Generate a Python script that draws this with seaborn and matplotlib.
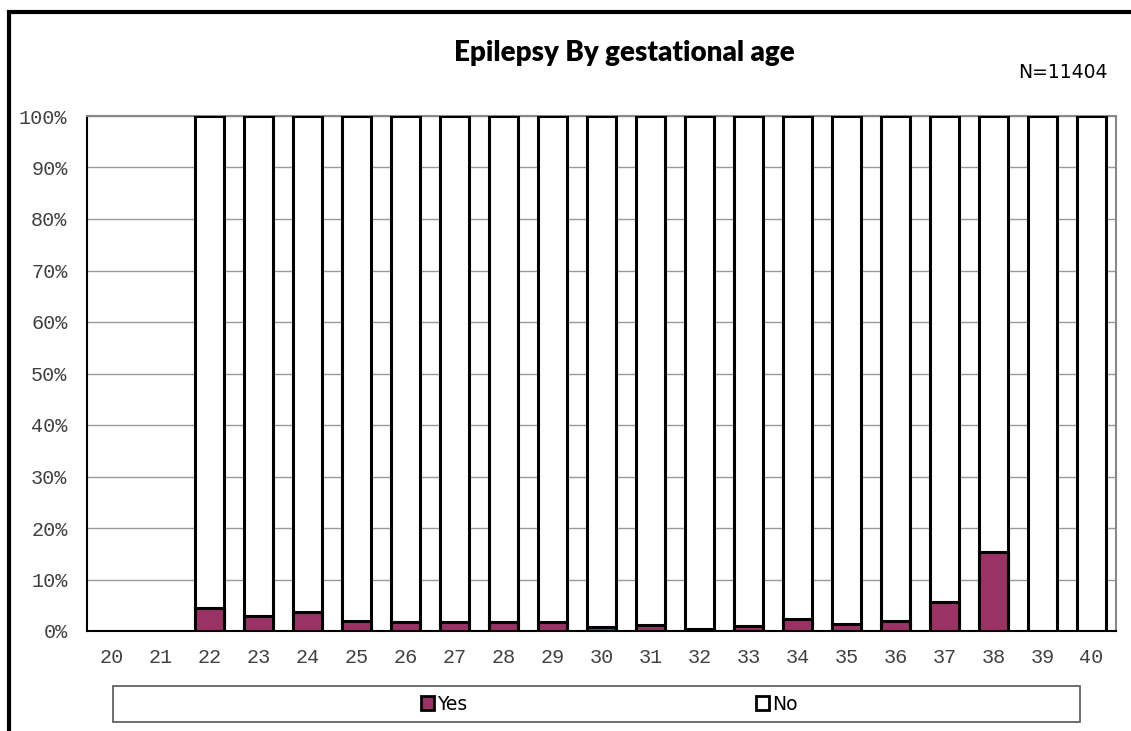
import numpy as np
import pandas as pd
import matplotlib
matplotlib.use('Agg')
import matplotlib.pyplot as plt
import seaborn as sns
from matplotlib.patches import Rectangle, Patch
from matplotlib.ticker import FuncFormatter

# Values (percent of each gestational age)
ages = [str(a) for a in range(20, 41)]
yes_pct = [np.nan, np.nan, 4.4, 2.9, 3.7, 2.0, 1.7, 1.7, 1.7, 1.7, 0.8,
           1.1, 0.4, 1.0, 2.4, 1.3, 1.9, 5.6, 15.3, 0.0, 0.0]
total_pct = [np.nan, np.nan] + [100.0] * 19

df = pd.DataFrame({'age': ages, 'Yes': yes_pct, 'Total': total_pct})

sns.set_style('white')
plt.rcParams['font.family'] = ['DejaVu Sans']
plt.rcParams['text.color'] = 'black'

fig = plt.figure(figsize=(11.31, 7.31), dpi=100)
ax = fig.add_axes([87 / 1131, 1 - 631 / 731, (1116 - 87) / 1131, (631 - 116) / 731])

# whole bar (No) drawn first, Yes part on top of it
sns.barplot(data=df, x='age', y='Total', order=ages, color='white', edgecolor='black',
            linewidth=2.2, width=0.6, errorbar=None, ax=ax, zorder=3)
sns.barplot(data=df, x='age', y='Yes', order=ages, color='#993366', saturation=1,
            edgecolor='black', linewidth=2.2, width=0.6, errorbar=None, ax=ax, zorder=4)

ax.set_ylim(0, 100)
ax.set_xlim(-0.5, len(ages) - 0.5)
ax.set_yticks(np.arange(0, 101, 10))
ax.yaxis.set_major_formatter(FuncFormatter(lambda v, p: f'{int(v)}%'))
ax.yaxis.grid(True, color='#999999', linewidth=1)
ax.set_axisbelow(True)
ax.set_xlabel('')
ax.set_ylabel('')

# ticks between categories on x
ax.set_xticks(np.arange(len(ages)))
ax.set_xticks(np.arange(-0.5, len(ages), 1), minor=True)
ax.tick_params(axis='x', which='major', length=0, pad=12)
ax.tick_params(axis='x', which='minor', direction='in', length=6, width=1, color='black')
ax.tick_params(axis='y', direction='in', length=6, width=1, color='black', pad=14)
for lab in ax.get_xticklabels() + ax.get_yticklabels():
    lab.set_fontfamily('Liberation Mono')
    lab.set_fontsize(14.5)
    lab.set_color('#404040')

for side in ['left', 'bottom']:
    ax.spines[side].set_color('black')
    ax.spines[side].set_linewidth(1.5)
for side in ['top', 'right']:
    ax.spines[side].set_color('#888888')
    ax.spines[side].set_linewidth(1.5)

# title and sample size
fig.text(624 / 1131, 1 - 53 / 731, 'Epilepsy By gestational age', ha='center', va='center',
         fontsize=20, fontweight='heavy', family=['Lato', 'DejaVu Sans'], color='black')
fig.text(1108 / 1131, 1 - 73 / 731, 'N=11404', ha='right', va='center', fontsize=13.5,
         color='black')

# legend box
fig.patches.append(Rectangle((113 / 1131, 1 - 722 / 731), (1080 - 113) / 1131, 36 / 731,
                             transform=fig.transFigure, facecolor='white',
                             edgecolor='#555555', linewidth=1.2))
handles = [Patch(facecolor='#993366', edgecolor='black', linewidth=2),
           Patch(facecolor='white', edgecolor='black', linewidth=2)]
leg = fig.legend(handles, ['Yes', 'No'], loc='center', bbox_to_anchor=(609 / 1131, 1 - 704 / 731),
                 ncol=2, frameon=False, fontsize=13.5, handlelength=0.7, handleheight=0.7,
                 handletextpad=0.15, columnspacing=15.4)

# outer chart border
fig.patches.append(Rectangle((9 / 1131, -0.05), 1.2, 1 - 12 / 731 + 0.05,
                             transform=fig.transFigure, facecolor='none',
                             edgecolor='black', linewidth=3))

fig.savefig('out.png', dpi=100)
